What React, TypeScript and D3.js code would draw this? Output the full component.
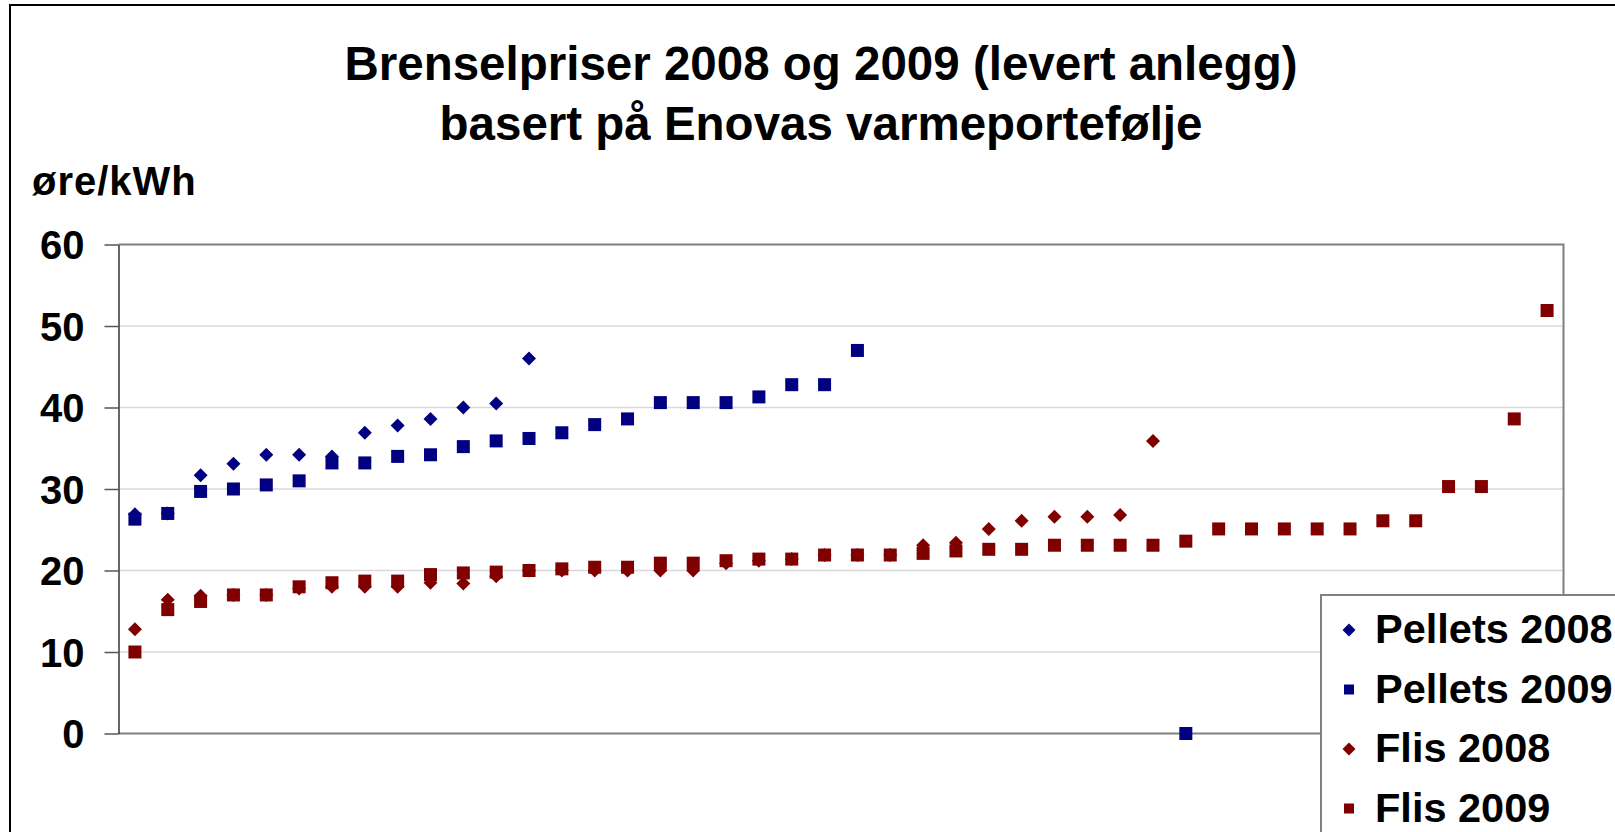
import React, { useEffect, useRef } from 'react';
import * as d3 from 'd3';

// categories are just the rank of each plant in the sorted list
const categories = [
  1, 2, 3, 4, 5, 6, 7, 8, 9, 10, 11, 12, 13, 14, 15, 16, 17, 18, 19, 20, 21, 22,
  23, 24, 25, 26, 27, 28, 29, 30, 31, 32, 33, 34, 35, 36, 37, 38, 39, 40, 41, 42, 43, 44,
];

const pellets2008 = [26.9, 27.0, 31.7, 33.1, 34.2, 34.2, 34.0, 36.9, 37.8, 38.6, 40.0, 40.5, 46.0];

const pellets2009 = [
  26.3, 27.0, 29.7, 30.0, 30.5, 31.0, 33.2, 33.2, 34.0, 34.2, 35.2, 35.9, 36.2, 36.9, 37.9, 38.6,
  40.6, 40.6, 40.6, 41.3, 42.8, 42.8, 47.0, null, null, null, null, null, null, null, null, null, 0,
];

const flis2008 = [
  12.8, 16.4, 16.9, 17.0, 17.0, 17.8, 18.0, 18.0, 18.0, 18.5, 18.4, 19.3, 20.0, 20.0, 20.0, 20.0,
  20.0, 20.0, 20.9, 21.2, 21.4, 21.9, 21.9, 21.9, 23.1, 23.4, 25.1, 26.1, 26.6, 26.6, 26.8, 35.9,
];

const flis2009 = [
  10.0, 15.2, 16.2, 17.0, 17.0, 18.0, 18.5, 18.7, 18.7, 19.5, 19.7, 19.8, 20.0, 20.2, 20.4, 20.4,
  20.9, 20.9, 21.2, 21.4, 21.4, 21.9, 21.9, 21.9, 22.1, 22.4, 22.6, 22.6, 23.1, 23.1, 23.1, 23.1,
  23.6, 25.1, 25.1, 25.1, 25.1, 25.1, 26.1, 26.1, 30.3, 30.3, 38.6, 51.9,
];

const yTicks = [0, 10, 20, 30, 40, 50, 60];

const seriesList = [
  { name: 'Pellets 2008', values: pellets2008, color: '#000080', shape: 'diamond' },
  { name: 'Pellets 2009', values: pellets2009, color: '#000080', shape: 'square' },
  { name: 'Flis 2008', values: flis2008, color: '#800000', shape: 'diamond' },
  { name: 'Flis 2009', values: flis2009, color: '#800000', shape: 'square' },
];

const W = 1615;
const H = 832;
const FONT = '"Liberation Sans", Arial, sans-serif';

const App: React.FC = () => {
  const svgRef = useRef<SVGSVGElement>(null);

  useEffect(() => {
    if (!svgRef.current) return;
    const svg = d3.select(svgRef.current);
    svg.selectAll('*').remove();

    const plot = { left: 118.5, right: 1563.5, top: 244.5, bottom: 733.5 };

    // outer chart frame (runs off the right/bottom edge like the original)
    svg.append('rect')
      .attr('x', 10).attr('y', 5)
      .attr('width', W + 40).attr('height', H + 40)
      .attr('fill', '#fff')
      .attr('stroke', '#000').attr('stroke-width', 2);

    svg.append('text')
      .attr('x', 821).attr('y', 80)
      .attr('text-anchor', 'middle')
      .attr('font-family', FONT).attr('font-weight', 'bold').attr('font-size', 47.5)
      .text('Brenselpriser 2008 og 2009 (levert anlegg)');

    svg.append('text')
      .attr('x', 821).attr('y', 140)
      .attr('text-anchor', 'middle')
      .attr('font-family', FONT).attr('font-weight', 'bold').attr('font-size', 47.5)
      .text('basert på Enovas varmeportefølje');

    svg.append('text')
      .attr('x', 32).attr('y', 195)
      .attr('font-family', FONT).attr('font-weight', 'bold').attr('font-size', 40)
      .attr('letter-spacing', 1)
      .text('øre/kWh');

    const x = d3.scaleBand<number>()
      .domain(categories)
      .range([plot.left, plot.right]);

    const y = d3.scaleLinear()
      .domain([0, 60])
      .range([plot.bottom, plot.top]);

    const cx = (i: number) => (x(categories[i]) ?? 0) + x.bandwidth() / 2;

    // gridlines
    svg.append('g')
      .selectAll('line')
      .data(yTicks.filter(t => t > 0 && t < 60))
      .join('line')
      .attr('x1', plot.left).attr('x2', plot.right)
      .attr('y1', d => y(d)).attr('y2', d => y(d))
      .attr('stroke', '#d9d9d9').attr('stroke-width', 1.5);

    // plot frame: top and right in grey
    svg.append('path')
      .attr('d', `M${plot.left},${plot.top}H${plot.right}V${plot.bottom}`)
      .attr('fill', 'none').attr('stroke', '#808080').attr('stroke-width', 2);

    // x axis line
    svg.append('line')
      .attr('x1', plot.left).attr('x2', plot.right)
      .attr('y1', y(0)).attr('y2', y(0))
      .attr('stroke', '#808080').attr('stroke-width', 2);

    // y axis
    const yAxis = svg.append('g')
      .attr('transform', `translate(${plot.left},0)`)
      .call(d3.axisLeft(y).tickValues(yTicks).tickSize(14).tickPadding(20).tickSizeOuter(0));
    yAxis.select('.domain').attr('stroke', '#333').attr('stroke-width', 1.5);
    yAxis.selectAll('.tick line').attr('stroke', '#555').attr('stroke-width', 1.5);
    yAxis.selectAll('.tick text')
      .attr('font-family', FONT).attr('font-weight', 'bold').attr('font-size', 40)
      .attr('fill', '#000').attr('dy', '0.36em');

    const diamond = (s: number) => `M0,${-s}L${s},0L0,${s}L${-s},0Z`;

    seriesList.forEach(s => {
      const pts = s.values
        .map((v, i) => ({ v, i }))
        .filter(p => p.v !== null) as { v: number; i: number }[];
      const g = svg.append('g');
      if (s.shape === 'square') {
        g.selectAll('rect')
          .data(pts)
          .join('rect')
          .attr('x', p => cx(p.i) - 6.5).attr('y', p => y(p.v) - 6.5)
          .attr('width', 13).attr('height', 13)
          .attr('fill', s.color);
      } else {
        g.selectAll('path')
          .data(pts)
          .join('path')
          .attr('transform', p => `translate(${cx(p.i)},${y(p.v)})`)
          .attr('d', diamond(7))
          .attr('fill', s.color);
      }
    });

    // legend
    const legend = svg.append('g').attr('transform', 'translate(1321,595)');
    legend.append('rect')
      .attr('x', 0).attr('y', 0).attr('width', 340).attr('height', 300)
      .attr('fill', '#fff').attr('stroke', '#808080').attr('stroke-width', 2);

    seriesList.forEach((s, k) => {
      const row = legend.append('g').attr('transform', `translate(0,${35 + k * 59.5})`);
      if (s.shape === 'square') {
        row.append('rect').attr('x', 23).attr('y', -5).attr('width', 10).attr('height', 10).attr('fill', s.color);
      } else {
        row.append('path').attr('transform', 'translate(28,0)').attr('d', diamond(6.5)).attr('fill', s.color);
      }
      row.append('text')
        .attr('x', 54).attr('y', 13)
        .attr('font-family', FONT).attr('font-weight', 'bold').attr('font-size', 41.5)
        .text(s.name);
    });
  }, []);

  return (
    <svg
      ref={svgRef}
      width={W}
      height={H}
      style={{ position: 'absolute', left: 0, top: 0, background: '#fff' }}
    />
  );
};

export default App;
